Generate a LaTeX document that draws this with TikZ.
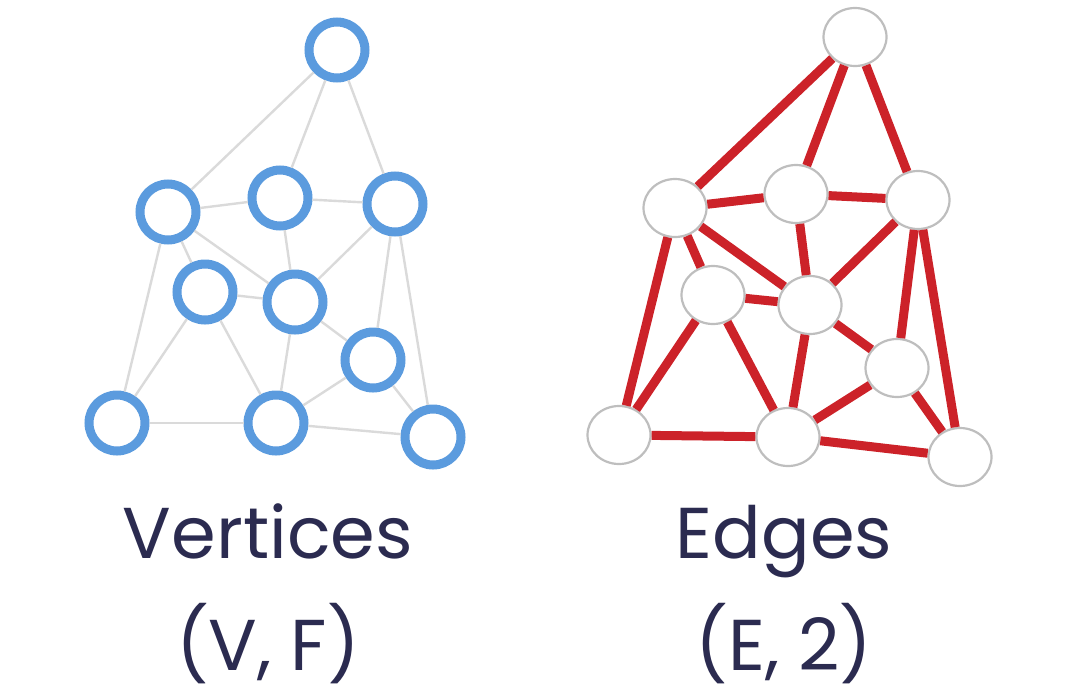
\documentclass[tikz,border=0pt]{standalone}
\usepackage{fontspec}
\setmainfont{Poppins}
\usetikzlibrary{shapes.geometric}
\definecolor{ringblue}{RGB}{91,155,222}
\definecolor{thin}{RGB}{218,218,218}
\definecolor{edgered}{RGB}{204,34,41}
\definecolor{rimgray}{RGB}{190,190,190}
\definecolor{ink}{RGB}{43,43,80}
\begin{document}
\begin{tikzpicture}[x=1pt,y=-1pt,
  ring/.style={circle,draw=ringblue,line width=9pt,fill=white,minimum size=56pt,inner sep=0pt},
  thinedge/.style={draw=thin,line width=2.4pt},
  blob/.style={ellipse,draw=rimgray,line width=2.2pt,fill=white,minimum width=63pt,minimum height=58pt,inner sep=0pt},
  rededge/.style={draw=edgered,line width=9pt},
  label/.style={text=ink,font=\fontsize{72}{76}\selectfont,anchor=base}]
\useasboundingbox (0,0) rectangle (1073,694);
% left graph
\node[ring] (a1) at (337,50) {};
\node[ring] (a2) at (168,212) {};
\node[ring] (a3) at (280,198) {};
\node[ring] (a4) at (395,204) {};
\node[ring] (a5) at (205,292) {};
\node[ring] (a6) at (295,302) {};
\node[ring] (a7) at (373,360) {};
\node[ring] (a8) at (117,423) {};
\node[ring] (a9) at (276,423) {};
\node[ring] (a10) at (433,437) {};
\foreach \u/\v in {a1/a2,a1/a3,a1/a4,a2/a3,a3/a4,a2/a5,a2/a6,a3/a6,a4/a6,a2/a8,a5/a6,a5/a8,a5/a9,a6/a9,a6/a7,a4/a7,a4/a10,a7/a9,a7/a10,a8/a9,a9/a10}
  \draw[thinedge] (\u) -- (\v);
% right graph
\node[blob] (b1) at (855,37) {};
\node[blob] (b2) at (675,208) {};
\node[blob] (b3) at (796,194) {};
\node[blob] (b4) at (918,200) {};
\node[blob] (b5) at (713,295) {};
\node[blob] (b6) at (810,305) {};
\node[blob] (b7) at (897,368) {};
\node[blob] (b8) at (619,435) {};
\node[blob] (b9) at (788,437) {};
\node[blob] (b10) at (960,457) {};
\foreach \u/\v in {b1/b2,b1/b3,b1/b4,b2/b3,b3/b4,b2/b5,b2/b6,b3/b6,b4/b6,b2/b8,b5/b6,b5/b8,b5/b9,b6/b9,b6/b7,b4/b7,b4/b10,b7/b9,b7/b10,b8/b9,b9/b10}
  \draw[rededge] (\u) -- (\v);
% labels
\node[label] (t1) at (268,558) {Vertices};
\node[label] (t2) at (268,670) {(V, F)};
\node[label] (t3) at (784,558) {Edges};
\node[label] (t4) at (784,670) {(E, 2)};
\end{tikzpicture}
\end{document}
